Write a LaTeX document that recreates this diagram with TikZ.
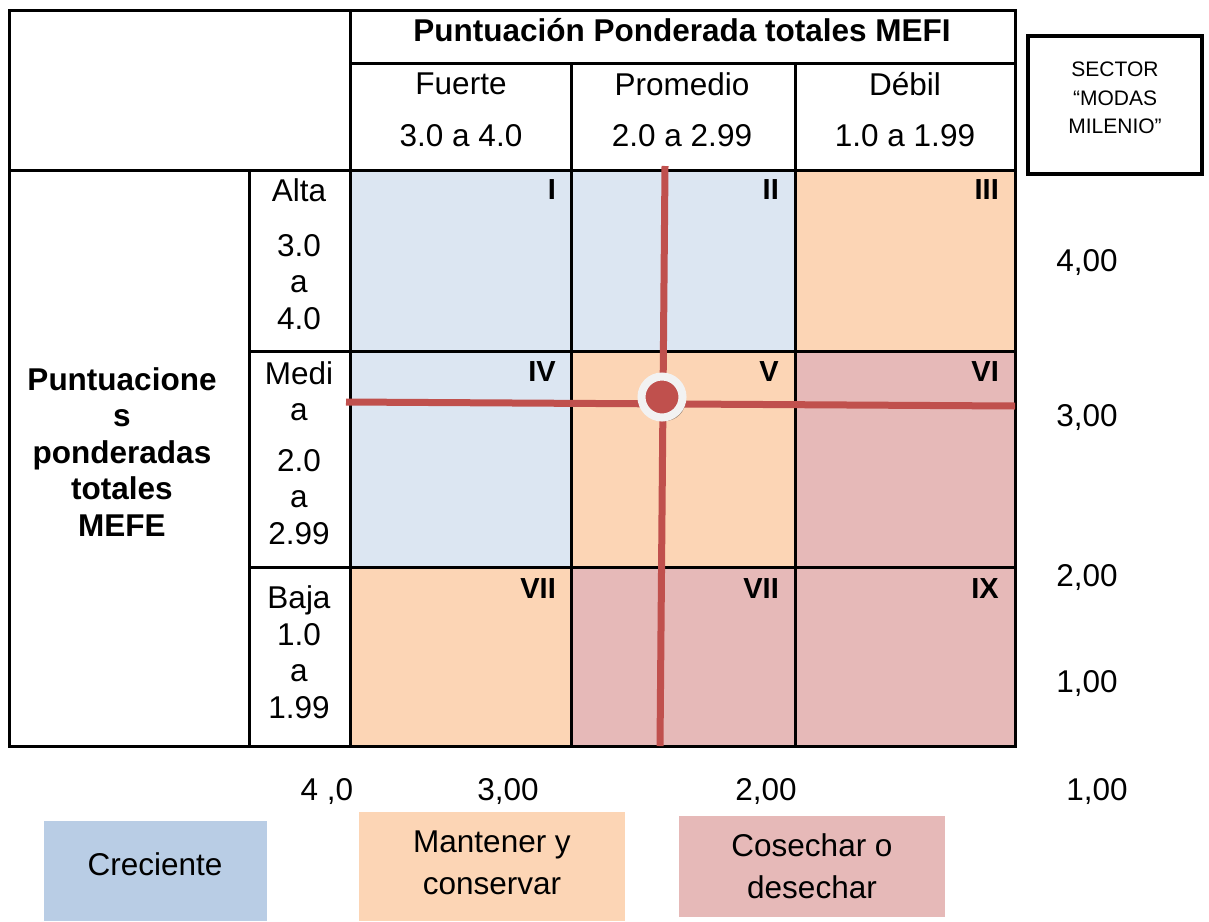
\documentclass[tikz,border=0pt]{standalone}
\usepackage{fontspec}
\setmainfont{Liberation Sans}
\usetikzlibrary{shadows}
\definecolor{cblue}{HTML}{DCE6F2}
\definecolor{corange}{HTML}{FCD5B5}
\definecolor{cpink}{HTML}{E6B9B8}
\definecolor{lblue}{HTML}{B9CDE5}
\definecolor{cred}{HTML}{C0504D}
\definecolor{ring}{HTML}{F2F2F2}
\begin{document}
\begin{tikzpicture}[x=1pt,y=-1pt,
  txt/.style={font=\fontsize{31.5}{36.5}\selectfont, inner sep=0pt, align=center},
  legtxt/.style={font=\fontsize{31.5}{42}\selectfont, inner sep=0pt, align=center},
  btxt/.style={font=\bfseries\fontsize{31.5}{36.5}\selectfont, inner sep=0pt, align=center},
  roman/.style={font=\bfseries\fontsize{29}{34}\selectfont, inner sep=0pt, anchor=east},
  small/.style={font=\fontsize{21}{28.5}\selectfont, inner sep=0pt, align=center},
  gridline/.style={line width=3pt, black},
  redline/.style={line width=7pt, cred}]
\useasboundingbox (0,0) rectangle (1209,921);

% cells
\fill[cblue]   (350,170) rectangle (571,351);
\fill[cblue]   (571,170) rectangle (795,351);
\fill[corange] (795,170) rectangle (1015,351);
\fill[cblue]   (350,351) rectangle (571,567);
\fill[corange] (571,351) rectangle (795,567);
\fill[cpink]   (795,351) rectangle (1015,567);
\fill[corange] (350,567) rectangle (571,746);
\fill[cpink]   (571,567) rectangle (795,746);
\fill[cpink]   (795,567) rectangle (1015,746);

% grid
\draw[gridline] (9,10) rectangle (1015,746);
\draw[gridline] (350,10) -- (350,746);
\draw[gridline] (350,63) -- (1015,63);
\draw[gridline] (9,170) -- (1015,170);
\draw[gridline] (249,170) -- (249,746);
\draw[gridline] (571,63) -- (571,746);
\draw[gridline] (795,63) -- (795,746);
\draw[gridline] (249,351) -- (1015,351);
\draw[gridline] (249,567) -- (1015,567);

% header
\node[btxt] (title) at (682,30) {Puntuación Ponderada totales MEFI};
\node[txt] (fuerte) at (461,84) {Fuerte};
\node[txt] (fuerter) at (461,136) {3.0 a 4.0};
\node[txt] (prom) at (682,84) {Promedio};
\node[txt] (promr) at (682,136) {2.0 a 2.99};
\node[txt] (debil) at (905,84) {Débil};
\node[txt] (debilr) at (905,136) {1.0 a 1.99};

% row labels
\node[btxt] (mefe) at (122,452) {Puntuacione\\s\\ponderadas\\totales\\MEFE};
\node[txt] (alta) at (299,190) {Alta};
\node[txt] (altar) at (299,282) {3.0\\a\\4.0};
\node[txt] (media) at (299,391) {Medi\\a};
\node[txt] (mediar) at (299,497) {2.0\\a\\2.99};
\node[txt] (baja) at (299,652) {Baja\\1.0\\a\\1.99};

% roman numerals
\node[roman] (r1) at (556,190) {I};
\node[roman] (r2) at (779,190) {II};
\node[roman] (r3) at (999,190) {III};
\node[roman] (r4) at (556,372) {IV};
\node[roman] (r5) at (779,372) {V};
\node[roman] (r6) at (999,372) {VI};
\node[roman] (r7) at (556,589) {VII};
\node[roman] (r8) at (779,589) {VII};
\node[roman] (r9) at (999,589) {IX};

% red cross lines
\coordinate (vt) at (665,166);
\coordinate (vb) at (660,746);
\coordinate (hl) at (346,402);
\coordinate (hr) at (1015,406);
\draw[redline] (vt) -- (vb);
\draw[redline] (hl) -- (hr);
\node[circle, minimum size=41pt, inner sep=0pt, fill=cred, draw=ring, line width=8pt,
      drop shadow={shadow xshift=3pt, shadow yshift=-3.5pt, fill=black, opacity=0.4}] (pt) at (662,397) {};

% sector box
\node[draw, line width=4pt, minimum width=174pt, minimum height=138pt, inner sep=0pt] (sector) at (1115,105) {};
\node[small] (sectort) at (1115,98) {SECTOR\\“MODAS\\MILENIO”};

% right axis
\node[txt] (y4) at (1087,263) {4,00};
\node[txt] (y3) at (1087,418) {3,00};
\node[txt] (y2) at (1087,578) {2,00};
\node[txt] (y1) at (1087,684) {1,00};

% bottom axis
\node[txt] (x4) at (327,792) {4 ,0};
\node[txt] (x3) at (508,792) {3,00};
\node[txt] (x2) at (766,792) {2,00};
\node[txt] (x1) at (1097,792) {1,00};

% legend
\fill[lblue] (44,821) rectangle (267,921);
\fill[corange] (359,812) rectangle (625,921);
\fill[cpink] (679,816) rectangle (945,917);
\node[legtxt] (leg1) at (155,864) {Creciente};
\node[legtxt] (leg2) at (492,863) {Mantener y\\conservar};
\node[legtxt] (leg3) at (812,866) {Cosechar o\\desechar};
\end{tikzpicture}
\end{document}
